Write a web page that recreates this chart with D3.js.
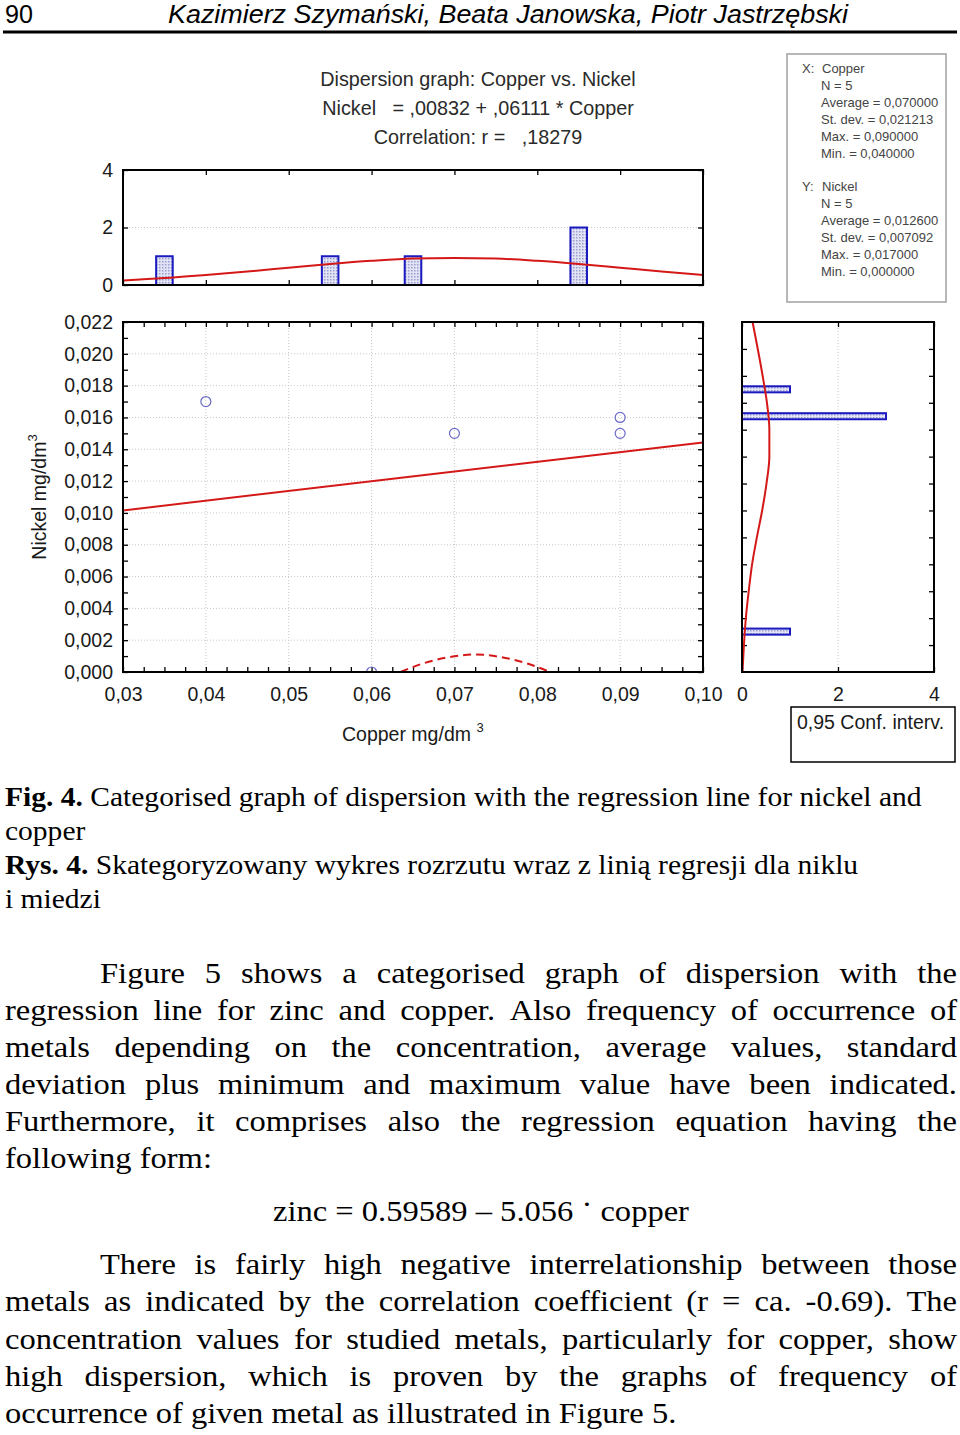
<!DOCTYPE html>
<html><head><meta charset="utf-8">
<script src="https://cdn.jsdelivr.net/npm/d3@7"></script>
<style>body{margin:0;background:#fff;} svg{display:block}</style>
</head><body>
<svg id="c" width="960" height="1435"></svg>
<script>
// ---------- data ----------
const copper = [0.04, 0.07, 0.09, 0.09, 0.06];
const nickel = [0.017, 0.015, 0.016, 0.015, 0.000];
const regCoef = [0.00832, 0.06111];          // intercept, slope
const corrR = ",18279";
const xTicks = [0.03, 0.04, 0.05, 0.06, 0.07, 0.08, 0.09, 0.10];
const yTicks = [0, 0.002, 0.004, 0.006, 0.008, 0.010, 0.012, 0.014, 0.016, 0.018, 0.020, 0.022];
const countTicks = [0, 2, 4];
// copper histogram (top)
const copperBins = [0.035, 0.055, 0.065, 0.085];
const copperCounts = [1, 1, 1, 2];
const copperFitX = [0.03, 0.035, 0.04, 0.045, 0.05, 0.055, 0.06, 0.065, 0.07, 0.075, 0.08, 0.085, 0.09, 0.095, 0.10];
const copperFitY = [0.16, 0.24, 0.35, 0.47, 0.60, 0.73, 0.84, 0.92, 0.94, 0.92, 0.84, 0.73, 0.60, 0.47, 0.35];
// nickel histogram (side) on its own axis
const nickelBins = [0.0210, 0.0190, 0.0030];
const nickelCounts = [1, 3, 1];
const nickelFitPos = [0.026, 0.022, 0.020, 0.018, 0.016, 0.014, 0.012, 0.010, 0.008, 0.006, 0.004, 0.002, 0.000];
const nickelFitCnt = [0.22, 0.43, 0.52, 0.57, 0.57, 0.51, 0.42, 0.31, 0.21, 0.14, 0.08, 0.04, 0.01];
// dashed confidence curve near the x axis
const ciX = [0.0635, 0.066, 0.069, 0.0725, 0.076, 0.079, 0.0815];
const ciY = [0.0, 0.0005, 0.0009, 0.0011, 0.0009, 0.0005, 0.0];

// ---------- setup ----------
const svg = d3.select("#c");
const SANS = "'Liberation Sans', Arial, sans-serif";
const SERIF = "'Liberation Serif', 'Times New Roman', serif";
const comma = (f) => (d) => d3.format(f)(d).replace(".", ",");
const FS = 19.5;

const x = d3.scaleLinear([0.03, 0.10], [123, 703]);
const y = d3.scaleLinear([0, 0.022], [672, 322]);
const yh = d3.scaleLinear([0, 4], [285, 170]);
const xs = d3.scaleLinear([0, 4], [742, 934]);
const ys = d3.scaleLinear([0, 0.026], [672, 322]);

const RED = "#d41818", BLUE = "#1a1ac0", GRID = "#c8c8c8";

const defs = svg.append("defs");
const pat = defs.append("pattern").attr("id", "dots").attr("width", 3).attr("height", 3).attr("patternUnits", "userSpaceOnUse");
pat.append("rect").attr("width", 3).attr("height", 3).attr("fill", "#e2e4f4");
pat.append("rect").attr("width", 1.5).attr("height", 1.5).attr("fill", "#9a9cd4");
defs.append("clipPath").attr("id", "cm").append("rect").attr("x", 123).attr("y", 322).attr("width", 580).attr("height", 350);

// ---------- header ----------
svg.append("text").attr("x", 5).attr("y", 23).attr("font-family", "'Liberation Sans Narrow', 'Arial Narrow', " + SANS)
  .attr("font-size", 26).attr("textLength", 28).attr("lengthAdjust", "spacingAndGlyphs").text("90");
svg.append("text").attr("x", 168).attr("y", 23).attr("font-family", "'Liberation Sans Narrow', 'Arial Narrow', " + SANS)
  .attr("font-style", "italic").attr("font-size", 26).attr("textLength", 680).attr("lengthAdjust", "spacingAndGlyphs")
  .text("Kazimierz Szymański, Beata Janowska, Piotr Jastrzębski");
svg.append("line").attr("x1", 3).attr("x2", 957).attr("y1", 32).attr("y2", 32).attr("stroke", "#000").attr("stroke-width", 3);

// ---------- title ----------
const titles = ["Dispersion graph: Copper vs. Nickel",
  "Nickel   = ," + d3.format(".5f")(regCoef[0]).slice(2) + " + ," + d3.format(".5f")(regCoef[1]).slice(2) + " * Copper",
  "Correlation: r =   " + corrR];
svg.append("g").selectAll("text").data(titles).join("text")
  .attr("x", 478).attr("y", (d, i) => 86 + i * 29).attr("text-anchor", "middle")
  .attr("font-family", SANS).attr("font-size", 19.8).attr("fill", "#2a2a2a")
  .style("white-space", "pre").attr("xml:space", "preserve").text(d => d);

// ---------- gridlines ----------
const grid = svg.append("g").attr("stroke", GRID).attr("stroke-dasharray", "1,2").attr("stroke-width", 1);
grid.selectAll(".gv").data(xTicks.slice(1, -1)).join("line")
  .attr("x1", d => x(d)).attr("x2", d => x(d)).attr("y1", y(0.022)).attr("y2", y(0));
grid.selectAll(".gh").data(yTicks.slice(1, -1)).join("line").attr("class", "gh")
  .attr("x1", x(0.03)).attr("x2", x(0.10)).attr("y1", d => y(d)).attr("y2", d => y(d));
grid.append("line").attr("x1", x(0.03)).attr("x2", x(0.10)).attr("y1", yh(2)).attr("y2", yh(2));
grid.append("line").attr("x1", xs(2)).attr("x2", xs(2)).attr("y1", ys(0.026)).attr("y2", ys(0));

// ---------- inward ticks ----------
function ticks(axisFn, scale, vals, tx, ty, size) {
  svg.append("g").attr("transform", `translate(${tx},${ty})`)
    .call(axisFn(scale).tickValues(vals).tickSize(size).tickFormat(""))
    .call(g => g.select(".domain").remove())
    .call(g => g.selectAll("line").attr("stroke", "#000").attr("stroke-width", 1.3));
}
const yMinor = d3.range(0, 23).map(i => i * 0.001);
const xMinor = d3.range(0, 29).map(i => 0.03 + i * 0.0025);
ticks(d3.axisRight, y, yMinor, 123, 0, 5);
ticks(d3.axisLeft, y, yMinor, 703, 0, 5);
ticks(d3.axisTop, x, xMinor, 0, 672, 5);
ticks(d3.axisBottom, x, xMinor, 0, 322, 5);
// top hist
ticks(d3.axisTop, x, xTicks, 0, 285, 5);
ticks(d3.axisBottom, x, xTicks, 0, 170, 5);
ticks(d3.axisRight, yh, countTicks, 123, 0, 5);
ticks(d3.axisLeft, yh, countTicks, 703, 0, 5);
// side hist
const sideTicks = d3.range(1, 13).map(i => i * 0.002);
ticks(d3.axisRight, ys, sideTicks, 742, 0, 5);
ticks(d3.axisLeft, ys, sideTicks, 934, 0, 5);
ticks(d3.axisTop, xs, countTicks, 0, 672, 5);
ticks(d3.axisBottom, xs, countTicks, 0, 322, 5);

// ---------- tick labels ----------
function labels(axisFn, scale, vals, fmt, tx, ty, pad) {
  svg.append("g").attr("transform", `translate(${tx},${ty})`)
    .call(axisFn(scale).tickValues(vals).tickSize(0).tickPadding(pad).tickFormat(fmt))
    .call(g => g.select(".domain").remove())
    .call(g => g.selectAll("text").attr("font-family", SANS).attr("font-size", FS).attr("fill", "#1a1a1a"));
}
labels(d3.axisLeft, y, yTicks, comma(".3f"), 123, 0, 10);
labels(d3.axisBottom, x, xTicks, comma(".2f"), 0, 672, 15);
labels(d3.axisLeft, yh, countTicks, d3.format("d"), 123, 0, 10);
labels(d3.axisBottom, xs, countTicks, d3.format("d"), 0, 672, 15);

// ---------- top histogram ----------
const bw = 0.002;
svg.append("g").selectAll("rect").data(copperBins).join("rect")
  .attr("x", d => x(d - bw / 2)).attr("width", x(bw) - x(0))
  .attr("y", (d, i) => yh(copperCounts[i])).attr("height", (d, i) => yh(0) - yh(copperCounts[i]))
  .attr("fill", "url(#dots)").attr("stroke", BLUE).attr("stroke-width", 2);
svg.append("path").datum(copperFitX.map((d, i) => [d, copperFitY[i]]))
  .attr("d", d3.line().x(d => x(d[0])).y(d => yh(d[1])).curve(d3.curveMonotoneX))
  .attr("fill", "none").attr("stroke", RED).attr("stroke-width", 2);

// ---------- side histogram ----------
const bh = 0.00045;
svg.append("g").selectAll("rect").data(nickelBins).join("rect")
  .attr("x", xs(0)).attr("width", (d, i) => xs(nickelCounts[i]) - xs(0))
  .attr("y", d => ys(d + bh / 2)).attr("height", ys(0) - ys(bh))
  .attr("fill", "url(#dots)").attr("stroke", BLUE).attr("stroke-width", 2);
svg.append("path").datum(nickelFitPos.map((d, i) => [nickelFitCnt[i], d]))
  .attr("d", d3.line().x(d => xs(d[0])).y(d => ys(d[1])).curve(d3.curveMonotoneY))
  .attr("fill", "none").attr("stroke", RED).attr("stroke-width", 2);

// ---------- scatter ----------
const main = svg.append("g").attr("clip-path", "url(#cm)");
main.append("line")
  .attr("x1", x(0.03)).attr("y1", y(regCoef[0] + regCoef[1] * 0.03))
  .attr("x2", x(0.10)).attr("y2", y(regCoef[0] + regCoef[1] * 0.10))
  .attr("stroke", RED).attr("stroke-width", 2);
main.append("path").datum(ciX.map((d, i) => [d, ciY[i]]))
  .attr("d", d3.line().x(d => x(d[0])).y(d => y(d[1])).curve(d3.curveMonotoneX))
  .attr("fill", "none").attr("stroke", RED).attr("stroke-width", 2).attr("stroke-dasharray", "8,5");
main.selectAll("circle").data(copper).join("circle")
  .attr("cx", d => x(d)).attr("cy", (d, i) => y(nickel[i])).attr("r", 5)
  .attr("fill", "none").attr("stroke", "#6a6ac8").attr("stroke-width", 1.2);

// ---------- frames ----------
const frame = (x0, y0, x1, y1) => svg.append("rect").attr("x", x0).attr("y", y0).attr("width", x1 - x0).attr("height", y1 - y0)
  .attr("fill", "none").attr("stroke", "#000").attr("stroke-width", 2);
frame(x(0.03), yh(4), x(0.10), yh(0));
frame(x(0.03), y(0.022), x(0.10), y(0));
frame(xs(0), ys(0.026), xs(4), ys(0));

// ---------- axis titles ----------
const yt = svg.append("text").attr("transform", "translate(46,497) rotate(-90)").attr("text-anchor", "middle")
  .attr("font-family", SANS).attr("font-size", FS).attr("fill", "#1a1a1a");
yt.append("tspan").text("Nickel mg/dm");
yt.append("tspan").attr("font-size", 13).attr("dy", -9).text("3");
const xt = svg.append("text").attr("x", 342).attr("y", 741).attr("font-family", SANS).attr("font-size", FS).attr("fill", "#1a1a1a");
xt.append("tspan").text("Copper mg/dm ");
xt.append("tspan").attr("font-size", 13).attr("dy", -9).text("3");

// ---------- stats box ----------
const fmt6 = comma(".6f");
const statLines = (axis, name, arr) => [
  [axis + ":", name], ["", "N = " + arr.length], ["", "Average = " + fmt6(d3.mean(arr))],
  ["", "St. dev. = " + fmt6(d3.deviation(arr))], ["", "Max. = " + fmt6(d3.max(arr))], ["", "Min. = " + fmt6(d3.min(arr))]];
const stats = [...statLines("X", "Copper", copper), ...statLines("Y", "Nickel", nickel)];
svg.append("rect").attr("x", 787).attr("y", 54).attr("width", 159).attr("height", 248)
  .attr("fill", "#fff").attr("stroke", "#a0a0a0").attr("stroke-width", 1.5);
const sg = svg.append("g").attr("font-family", SANS).attr("font-size", 13).attr("fill", "#444");
stats.forEach((s, i) => {
  const yy = 73 + i * 17 + (i >= 6 ? 16 : 0);
  if (s[0]) sg.append("text").attr("x", 802).attr("y", yy).text(s[0]);
  sg.append("text").attr("x", s[0] ? 822 : 821).attr("y", yy).text(s[1]);
});

// ---------- legend ----------
svg.append("rect").attr("x", 791).attr("y", 707).attr("width", 164).attr("height", 55)
  .attr("fill", "#fff").attr("stroke", "#000").attr("stroke-width", 1.5);
svg.append("text").attr("x", 797).attr("y", 729).attr("font-family", SANS).attr("font-size", FS).attr("fill", "#1a1a1a")
  .text("0,95 Conf. interv.");

// ---------- caption ----------
function captionLine(parts, yb, target) {
  const t = svg.append("text").attr("font-family", SERIF).attr("font-size", 27).attr("fill", "#000");
  parts.forEach(p => t.append("tspan").attr("font-weight", p[1] ? "bold" : "normal").text(p[0]));
  const w = t.node().getComputedTextLength();
  const s = target ? target / w : 1;
  t.attr("transform", `translate(5,${yb}) scale(${s},1)`);
  return s;
}
const cs = captionLine([["Fig. 4. ", true], ["Categorised graph of dispersion with the regression line for nickel and", false]], 806, 917);
function captionLineS(parts, yb, s) {
  const t = svg.append("text").attr("font-family", SERIF).attr("font-size", 27).attr("fill", "#000")
    .attr("transform", `translate(5,${yb}) scale(${s},1)`);
  parts.forEach(p => t.append("tspan").attr("font-weight", p[1] ? "bold" : "normal").text(p[0]));
}
captionLineS([["copper", false]], 840, cs);
captionLineS([["Rys. 4. ", true], ["Skategoryzowany wykres rozrzutu wraz z linią regresji dla niklu", false]], 874, cs);
captionLineS([["i miedzi", false]], 908, cs);

// ---------- body text ----------
const BS = 29;
const probe = svg.append("text").attr("font-family", SERIF).attr("font-size", BS).text("following form:");
const bsx = 207 / probe.node().getComputedTextLength();
probe.remove();
function bodyLine(str, x0, x1, yb, just) {
  const g = svg.append("g").attr("transform", `translate(${x0},${yb}) scale(${bsx},1)`);
  const words = str.split(" ");
  const ts = words.map(w => g.append("text").attr("font-family", SERIF).attr("font-size", BS).attr("fill", "#000").text(w));
  const ws = ts.map(t => t.node().getComputedTextLength());
  const avail = (x1 - x0) / bsx;
  const gap = just && words.length > 1 ? (avail - d3.sum(ws)) / (words.length - 1) : BS * 0.25;
  let cx = 0;
  ts.forEach((t, i) => { t.attr("x", cx); cx += ws[i] + gap; });
}
const body = [
  ["Figure 5 shows a categorised graph of dispersion with the", 100, 983, true],
  ["regression line for zinc and copper. Also frequency of occurrence of", 5, 1020, true],
  ["metals depending on the concentration, average values, standard", 5, 1057, true],
  ["deviation plus minimum and maximum value have been indicated.", 5, 1094, true],
  ["Furthermore, it comprises also the regression equation having the", 5, 1131, true],
  ["following form:", 5, 1168, false],
  ["There is fairly high negative interrelationship between those", 100, 1274, true],
  ["metals as indicated by the correlation coefficient (r = ca. -0.69). The", 5, 1311, true],
  ["concentration values for studied metals, particularly for copper, show", 5, 1349, true],
  ["high dispersion, which is proven by the graphs of frequency of", 5, 1386, true],
  ["occurrence of given metal as illustrated in Figure 5.", 5, 1423, false]
];
body.forEach(b => bodyLine(b[0], b[1], 957, b[2], b[3]));
// equation
const eq = svg.append("text").attr("font-family", SERIF).attr("font-size", BS).attr("fill", "#000")
  .attr("text-anchor", "middle").attr("transform", `translate(481,1221) scale(${bsx},1)`);
eq.append("tspan").text("zinc = 0.59589 – 5.056 ");
eq.append("tspan").attr("dy", -7).text("·");
eq.append("tspan").attr("dy", 7).text(" copper");
</script>
</body></html>
